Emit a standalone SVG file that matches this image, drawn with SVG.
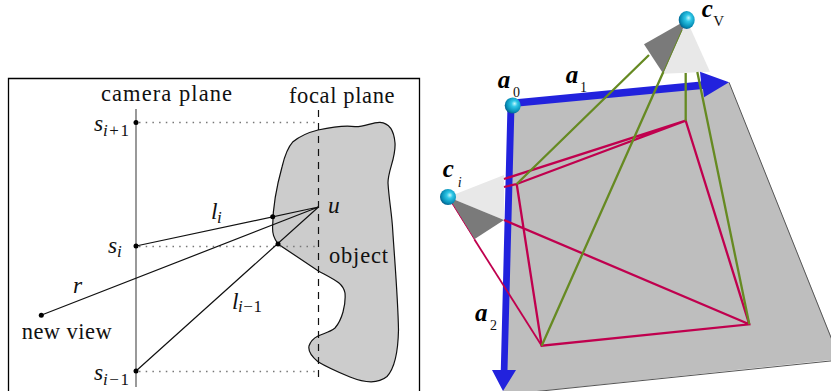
<svg xmlns="http://www.w3.org/2000/svg" width="831" height="391" viewBox="0 0 831 391">
<defs>
<radialGradient id="ball" cx="0.58" cy="0.42" r="0.62" fx="0.62" fy="0.38">
<stop offset="0" stop-color="#c8f8fc"/><stop offset="0.3" stop-color="#30c8e8"/><stop offset="0.75" stop-color="#0890b8"/><stop offset="1" stop-color="#055a88"/>
</radialGradient>
</defs>
<style>
.cm{font-family:"Liberation Serif",serif;font-size:22.5px;fill:#111}
.mi{font-family:"Liberation Serif",serif;font-style:italic;font-size:23.5px;fill:#111}
.ms{font-family:"Liberation Serif",serif;font-style:italic;font-size:17px;fill:#111}
.mn{font-family:"Liberation Serif",serif;font-style:normal;font-size:17px;fill:#111}
.bv{font-family:"Liberation Serif",serif;font-style:italic;font-weight:bold;font-size:25px;fill:#000}
.sb{font-family:"Liberation Serif",serif;font-size:14px;fill:#111}
.thin{fill:none;stroke:#111;stroke-width:1.2}
.dot{fill:none;stroke:#777;stroke-width:1.4;stroke-dasharray:1.5 5.2}
.red{fill:none;stroke:#c0004e;stroke-width:2.3}
.grn{fill:none;stroke:#668a22;stroke-width:2.3}
.blue{fill:#2222dd}
.ball{fill:url(#ball)}
</style>
<rect width="831" height="391" fill="#fff"/>
<g id="light-field-panel">
<path id="frame" d="M8.5 391V78.5H419.5V391" fill="none" stroke="#000" stroke-width="1.3"/>
<path id="object-shape" d="M318 130C332 127 345 125 355 126.7C365 127 372 122 380 122.3C389 123 394 130 395 143C396 158 388 170 388 183C389 200 392 215 392.7 230C395 265 398 300 398.5 330C398 355 393 370 387 376.5C378 384 365 383 350 377C338 372 325 366 318 361.7C311 356 308 351 309 346C311 340 314 338 318 336C325 333 330 332 335 328C342 320 346 305 345 293C343 283 335 280 318 270.7L278 244C274 238 272 234 272.7 225C273 205 277 185 282 167C286 150 290 145 293 141.7C300 136 310 132 318 130Z" fill="#ccc" stroke="#111" stroke-width="1.2"/>
<g id="connectors-left">
<path d="M136 109V387" fill="none" stroke="#808080" stroke-width="1.6"/>
<path d="M318.5 110V381" fill="none" stroke="#111" stroke-width="1.2" stroke-dasharray="7 6"/>
<path class="dot" d="M139 122.5H318M139 246.5H318M139 371.5H318"/>
<path class="thin" d="M318.5 207L136 246M41 315.3L318.5 207M136 371L318.5 207"/>
<g fill="#000"><circle cx="136" cy="122.5" r="2.5"/><circle cx="136" cy="246" r="2.5"/><circle cx="136" cy="371" r="2.5"/><circle cx="41.3" cy="315.3" r="2.5"/><circle cx="272.7" cy="216.7" r="2.5"/><circle cx="278" cy="244" r="2.5"/></g>
</g>
<text class="cm" x="101" y="100.7" textLength="131" lengthAdjust="spacing">camera plane</text>
<text class="cm" x="289" y="102.7" textLength="105.500" lengthAdjust="spacing">focal plane</text>
<text class="cm" x="329" y="263.3" textLength="59" lengthAdjust="spacing">object</text>
<text class="cm" x="21.700" y="338.7" textLength="90" lengthAdjust="spacing">new view</text>
<text class="mi" x="94" y="131">s</text><text class="ms" x="103" y="135.500" textLength="26" lengthAdjust="spacing">i<tspan class="mn">+1</tspan></text>
<text class="mi" x="108" y="253.300">s</text><text class="ms" x="117" y="257">i</text>
<text class="mi" x="94" y="380">s</text><text class="ms" x="103" y="384.500" textLength="26" lengthAdjust="spacing">i<tspan class="mn">−1</tspan></text>
<text class="mi" x="73" y="293.300">r</text>
<text class="mi" x="211" y="219">l</text><text class="ms" x="217" y="223">i</text>
<text class="mi" x="328" y="213.300">u</text>
<text class="mi" x="232" y="309">l</text><text class="ms" x="238" y="312" textLength="24" lengthAdjust="spacing">i<tspan class="mn">−1</tspan></text>
</g>
<g id="plate"><path d="M511 103L729 82.300L840 359L503 395Z" fill="#bebebe"/><path d="M729 82.300L840 360L503 395" fill="none" stroke="#555" stroke-width="1"/></g>
<g id="frustum-ci"><path d="M448 197L504 175V220Z" fill="#e8e8e8"/><path d="M448 197L504 220L474.300 239.300Z" fill="#7a7a7a"/></g>
<g id="frustum-cv"><path d="M686.700 20L710 71.700L663.300 73.700Z" fill="#e8e8e8"/><path d="M686.700 20L663.300 73.700L644 44.300Z" fill="#7a7a7a"/></g>
<g id="axes">
<path id="axis-a1" class="blue" d="M513 99.500L701 81.500L700 71.700L729 82.300L704 97.300L703 89L513 107Z"/>
<path id="axis-a2" class="blue" d="M507.500 105H514.500L507.500 370H516L503 391L492 370H500.800Z"/>
</g>
<g id="connectors-right">
<path class="red" d="M504 179L685.700 120.700M504 187L516.700 184L685.700 120.700L749.300 324.300L541.700 345.700L516.700 184M504 220L749.300 324.300"/>
<path class="red" style="stroke-width:1.8" d="M474.300 239.300L541.700 345.700"/>
<path class="red" style="stroke-width:1" d="M448 197L474.300 239.300"/>
<path class="grn" d="M516.700 184L649 55M541.700 345.700L663.300 72M685.700 120.700V73M749.300 324.300L697.300 72"/>
<path class="grn" style="stroke-width:1" d="M682 30L663.300 72"/>
</g>
<g id="node-a0"><circle class="ball" cx="512.700" cy="105.500" r="8"/><text class="bv" x="497.700" y="88">a</text><text class="sb" x="513" y="97">0</text></g>
<g id="node-a1-label"><text class="bv" x="565.700" y="82.700">a</text><text class="sb" x="580" y="91.700">1</text></g>
<g id="node-a2-label"><text class="bv" x="475" y="321">a</text><text class="sb" x="490" y="330">2</text></g>
<g id="node-ci"><circle class="ball" cx="448" cy="197" r="8"/><text class="bv" x="442.700" y="177.300">c</text><text class="sb" x="457.700" y="187.300" font-style="italic">i</text></g>
<g id="node-cv"><ellipse class="ball" cx="686.700" cy="20" rx="8" ry="9"/><text class="bv" x="701.700" y="16.700">c</text><text class="sb" x="713.300" y="25.700" style="font-size:15px">V</text></g>
</svg>
